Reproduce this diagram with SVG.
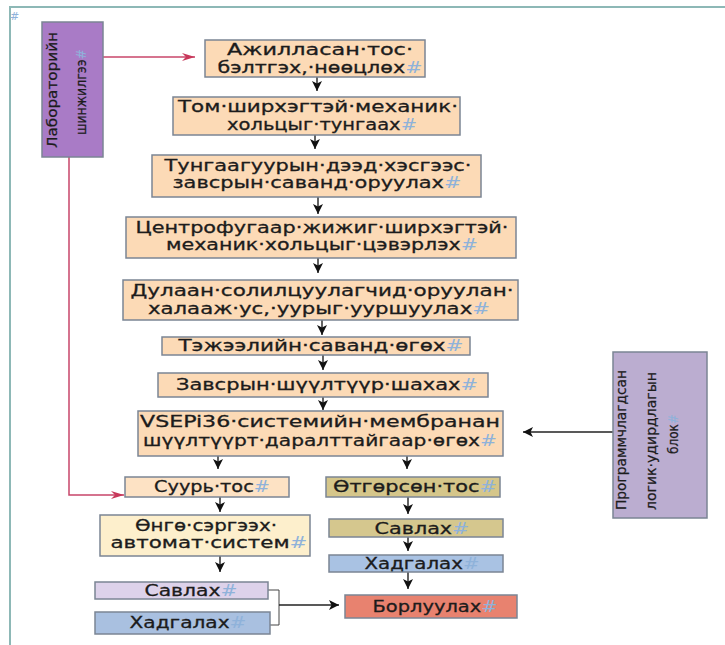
<svg xmlns="http://www.w3.org/2000/svg" width="725" height="645" viewBox="0 0 725 645">
<defs>
<style>
.bx{stroke:#7b8594;stroke-width:1.5}
.t{font-family:"DejaVu Sans","Liberation Sans",sans-serif;font-size:15.5px;fill:#1c1c1c;stroke:#1c1c1c;stroke-width:0.3;text-anchor:middle}
.tv{font-family:"DejaVu Sans","Liberation Sans",sans-serif;font-size:14px;fill:#1c1c1c;stroke:#1c1c1c;stroke-width:0.25;text-anchor:middle}
.m{fill:#8fb2da;stroke:none}
.c{fill:none;stroke:#222;stroke-width:1.4}
.r{fill:none;stroke:#c8466a;stroke-width:1.5}
.peach{fill:#fcdab6}
</style>
<marker id="ah" markerUnits="userSpaceOnUse" markerWidth="11" markerHeight="11" refX="10" refY="5" orient="auto">
<path d="M0,0 L10,5 L0,10 L2.5,5 z" fill="#111"/>
</marker>
<marker id="ahr" markerUnits="userSpaceOnUse" markerWidth="14" markerHeight="10" refX="13" refY="4" orient="auto">
<path d="M0,0 L13,4 L0,8 L4,4 z" fill="#c8385a"/>
</marker>
</defs>
<rect width="725" height="645" fill="#ffffff"/>
<path d="M10,645 V7 H725" fill="none" stroke="#8db8b6" stroke-width="2"/>
<text x="10" y="20" font-family="DejaVu Sans, sans-serif" font-size="11" class="m">#</text>

<g id="connectors">
<path class="r" d="M103,57 H195" marker-end="url(#ahr)"/>
<path class="r" d="M69,157 V495 H124" marker-end="url(#ahr)"/>
<path class="c" d="M317,77 V91" marker-end="url(#ah)"/>
<path class="c" d="M315,135 V149" marker-end="url(#ah)"/>
<path class="c" d="M318,197 V214" marker-end="url(#ah)"/>
<path class="c" d="M318,258 V273" marker-end="url(#ah)"/>
<path class="c" d="M322,320 V335" marker-end="url(#ah)"/>
<path class="c" d="M323,355 V370" marker-end="url(#ah)"/>
<path class="c" d="M323,397 V410" marker-end="url(#ah)"/>
<path class="c" d="M218,456 V469" marker-end="url(#ah)"/>
<path class="c" d="M407,456 V469" marker-end="url(#ah)"/>
<path class="c" d="M220,497 V512" marker-end="url(#ah)"/>
<path class="c" d="M220,556 V572" marker-end="url(#ah)"/>
<path class="c" d="M408,497 V514" marker-end="url(#ah)"/>
<path class="c" d="M408,537 V551" marker-end="url(#ah)"/>
<path class="c" d="M408,572 V589" marker-end="url(#ah)"/>
<path class="c" d="M613,432 H523" marker-end="url(#ah)"/>
<path fill="none" stroke="#444" stroke-width="1" d="M268,590 H279 V625 H270"/>
<path class="c" d="M279,605 H339" marker-end="url(#ah)"/>
</g>

<g id="lab">
<rect class="bx" x="42" y="22" width="61" height="135" fill="#a97bc6"/>
<text class="tv" transform="translate(57,90) rotate(-90)" textLength="116" lengthAdjust="spacingAndGlyphs">Лабораторийн</text>
<text class="tv" transform="translate(86,92) rotate(-90)" textLength="86" lengthAdjust="spacingAndGlyphs">шинжилгээ<tspan class="m">#</tspan></text>
</g>

<g id="n1">
<rect class="bx peach" x="205" y="40" width="220" height="37"/>
<text class="t" x="320" y="55" textLength="186" lengthAdjust="spacingAndGlyphs">Ажилласан·тос·</text>
<text class="t" x="320" y="73" textLength="205" lengthAdjust="spacingAndGlyphs">бэлтгэх,·нөөцлөх<tspan class="m">#</tspan></text>
</g>

<g id="n2">
<rect class="bx peach" x="173" y="97" width="287" height="38"/>
<text class="t" x="318" y="112" textLength="280" lengthAdjust="spacingAndGlyphs">Том·ширхэгтэй·механик·</text>
<text class="t" x="322" y="129.5" textLength="190" lengthAdjust="spacingAndGlyphs">хольцыг·тунгаах<tspan class="m">#</tspan></text>
</g>

<g id="n3">
<rect class="bx peach" x="152" y="155" width="329" height="42"/>
<text class="t" x="318" y="171" textLength="307" lengthAdjust="spacingAndGlyphs">Тунгаагуурын·дээд·хэсгээс·</text>
<text class="t" x="317" y="188" textLength="289" lengthAdjust="spacingAndGlyphs">завсрын·саванд·оруулах<tspan class="m">#</tspan></text>
</g>

<g id="n4">
<rect class="bx peach" x="126" y="217" width="390" height="41"/>
<text class="t" x="322" y="233" textLength="373" lengthAdjust="spacingAndGlyphs">Центрофугаар·жижиг·ширхэгтэй·</text>
<text class="t" x="322" y="250" textLength="312" lengthAdjust="spacingAndGlyphs">механик·хольцыг·цэвэрлэх<tspan class="m">#</tspan></text>
</g>

<g id="n5">
<rect class="bx peach" x="123" y="280" width="395" height="40"/>
<text class="t" x="322" y="296" textLength="383" lengthAdjust="spacingAndGlyphs">Дулаан·солилцуулагчид·оруулан·</text>
<text class="t" x="319" y="314" textLength="342" lengthAdjust="spacingAndGlyphs">халааж·ус,·уурыг·ууршуулах<tspan class="m">#</tspan></text>
</g>

<g id="n6">
<rect class="bx peach" x="162" y="337" width="308" height="18"/>
<text class="t" x="321" y="351" textLength="285" lengthAdjust="spacingAndGlyphs">Тэжээлийн·саванд·өгөх<tspan class="m">#</tspan></text>
</g>

<g id="n7">
<rect class="bx peach" x="158" y="373" width="330" height="24"/>
<text class="t" x="327" y="390" textLength="302" lengthAdjust="spacingAndGlyphs">Завсрын·шүүлтүүр·шахах<tspan class="m">#</tspan></text>
</g>

<g id="n8">
<rect class="bx peach" x="138" y="411" width="365" height="45"/>
<text class="t" x="320" y="427" textLength="360" lengthAdjust="spacingAndGlyphs">VSEPi36·системийн·мембранан</text>
<text class="t" x="320" y="446" textLength="354" lengthAdjust="spacingAndGlyphs">шүүлтүүрт·даралттайгаар·өгөх<tspan class="m">#</tspan></text>
</g>

<g id="plc">
<rect class="bx" x="613" y="352" width="94" height="166" fill="#bbadd0"/>
<text class="tv" transform="translate(626,440) rotate(-90)" textLength="140" lengthAdjust="spacingAndGlyphs">Программчлагдсан</text>
<text class="tv" transform="translate(656,441) rotate(-90)" textLength="138" lengthAdjust="spacingAndGlyphs">логик·удирдлагын</text>
<text class="tv" transform="translate(678,434) rotate(-90)" textLength="40" lengthAdjust="spacingAndGlyphs">блок<tspan class="m">#</tspan></text>
</g>

<g id="suur">
<rect class="bx" x="125" y="477" width="164" height="20" fill="#fde2c4"/>
<text class="t" x="212" y="492" textLength="116" lengthAdjust="spacingAndGlyphs">Суурь·тос<tspan class="m">#</tspan></text>
</g>

<g id="otgorson">
<rect class="bx" x="326" y="477" width="174" height="20" fill="#d5c68a"/>
<text class="t" x="415" y="492" textLength="164" lengthAdjust="spacingAndGlyphs">Өтгөрсөн·тос<tspan class="m">#</tspan></text>
</g>

<g id="onge">
<rect class="bx" x="100" y="515" width="210" height="41" fill="#fdefcc"/>
<text class="t" x="206" y="531" textLength="142" lengthAdjust="spacingAndGlyphs">Өнгө·сэргээх·</text>
<text class="t" x="209" y="548" textLength="197" lengthAdjust="spacingAndGlyphs">автомат·систем<tspan class="m">#</tspan></text>
</g>

<g id="savlakh2">
<rect class="bx" x="329" y="519" width="174" height="18" fill="#d5c78e"/>
<text class="t" x="422" y="534" textLength="95" lengthAdjust="spacingAndGlyphs">Савлах<tspan class="m">#</tspan></text>
</g>

<g id="khadgalakh2">
<rect class="bx" x="329" y="555" width="174" height="17" fill="#a9c2e3"/>
<text class="t" x="422" y="569" textLength="115" lengthAdjust="spacingAndGlyphs">Хадгалах<tspan class="m">#</tspan></text>
</g>

<g id="savlakh1">
<rect class="bx" x="95" y="582" width="173" height="17" fill="#ddd2ea"/>
<text class="t" x="191" y="596" textLength="93" lengthAdjust="spacingAndGlyphs">Савлах<tspan class="m">#</tspan></text>
</g>

<g id="khadgalakh1">
<rect class="bx" x="95" y="612" width="175" height="22" fill="#a9c0e0"/>
<text class="t" x="188" y="628" textLength="117" lengthAdjust="spacingAndGlyphs">Хадгалах<tspan class="m">#</tspan></text>
</g>

<g id="borluulakh">
<rect class="bx" x="345" y="595" width="172" height="23" fill="#e8826f"/>
<text class="t" x="435" y="612" textLength="125" lengthAdjust="spacingAndGlyphs">Борлуулах<tspan class="m">#</tspan></text>
</g>
</svg>
